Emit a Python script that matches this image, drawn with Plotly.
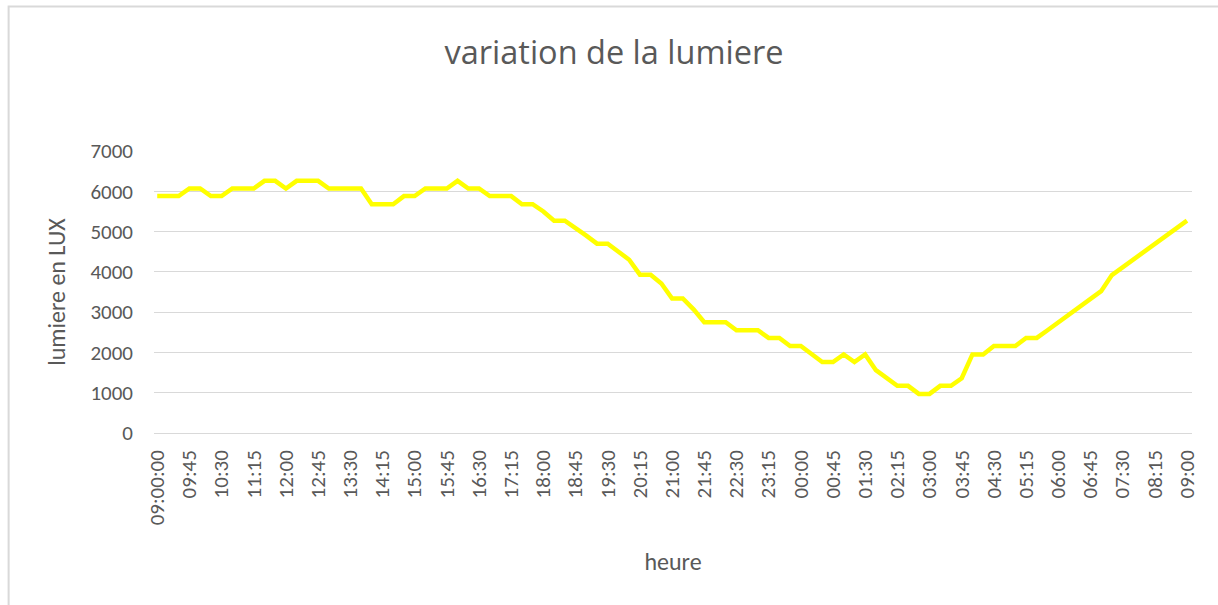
import plotly.graph_objects as go

heures = [
    "09:00:00", "09:15", "09:30", "09:45", "10:00", "10:15", "10:30", "10:45",
    "11:00", "11:15", "11:30", "11:45", "12:00", "12:15", "12:30", "12:45",
    "13:00", "13:15", "13:30", "13:45", "14:00", "14:15", "14:30", "14:45",
    "15:00", "15:15", "15:30", "15:45", "16:00", "16:15", "16:30", "16:45",
    "17:00", "17:15", "17:30", "17:45", "18:00", "18:15", "18:30", "18:45",
    "19:00", "19:15", "19:30", "19:45", "20:00", "20:15", "20:30", "20:45",
    "21:00", "21:15", "21:30", "21:45", "22:00", "22:15", "22:30", "22:45",
    "23:00", "23:15", "23:30", "23:45", "00:00", "00:15", "00:30", "00:45",
    "01:00", "01:15", "01:30", "01:45", "02:00", "02:15", "02:30", "02:45",
    "03:00", "03:15", "03:30", "03:45", "04:00", "04:15", "04:30", "04:45",
    "05:00", "05:15", "05:30", "05:45", "06:00", "06:15", "06:30", "06:45",
    "07:00", "07:15", "07:30", "07:45", "08:00", "08:15", "08:30", "08:45",
    "09:00",
]

lumiere_lux = [
    5880, 5880, 5880, 6070, 6070, 5880, 5880, 6070,
    6070, 6070, 6260, 6260, 6070, 6260, 6260, 6260,
    6070, 6070, 6070, 6070, 5680, 5680, 5680, 5880,
    5880, 6070, 6070, 6070, 6260, 6070, 6070, 5880,
    5880, 5880, 5680, 5680, 5500, 5270, 5270, 5100,
    4900, 4700, 4700, 4500, 4300, 3930, 3930, 3710,
    3340, 3340, 3070, 2750, 2750, 2750, 2550, 2550,
    2550, 2360, 2360, 2160, 2160, 1960, 1760, 1760,
    1950, 1760, 1950, 1560, 1360, 1170, 1170, 970,
    970, 1170, 1170, 1360, 1950, 1950, 2160, 2160,
    2160, 2360, 2360, 2550, 2740, 2930, 3110, 3330,
    3520, 3920, 4110, 4300, 4500, 4690, 4890, 5080,
    5270,
]

tick_labels = [
    "09:00:00", "09:45", "10:30", "11:15", "12:00", "12:45", "13:30", "14:15",
    "15:00", "15:45", "16:30", "17:15", "18:00", "18:45", "19:30", "20:15",
    "21:00", "21:45", "22:30", "23:15", "00:00", "00:45", "01:30", "02:15",
    "03:00", "03:45", "04:30", "05:15", "06:00", "06:45", "07:30", "08:15",
    "09:00",
]

y_ticks = [0, 1000, 2000, 3000, 4000, 5000, 6000, 7000]

FONT = "Carlito, Lato, sans-serif"
TITLE_FONT = "'Open Sans', Lato, sans-serif"
GREY = "#595959"

fig = go.Figure()
fig.add_trace(go.Scatter(
    x=heures, y=lumiere_lux, mode="lines",
    line=dict(color="#FFFF00", width=4.5),
    showlegend=False, hoverinfo="x+y",
))

W, H = 1218, 605
L, R, T, B = 154.3, 1191.7, 150.7, 433.0

fig.update_layout(
    width=W, height=H,
    margin=dict(l=L, r=W - R, t=T, b=H - B, pad=0),
    paper_bgcolor="white", plot_bgcolor="white",
    font=dict(family=FONT, color=GREY),
    title=dict(
        text="variation de la lumiere",
        font=dict(family=TITLE_FONT, size=32.5, color=GREY),
        x=614 / W, xref="container", xanchor="center",
        y=1 - 64 / H, yref="container", yanchor="bottom",
    ),
    xaxis=dict(
        type="category",
        categoryorder="array", categoryarray=heures,
        range=[-0.3, 96.47],
        tickmode="array", tickvals=tick_labels, ticktext=tick_labels,
        tickangle=-90,
        tickfont=dict(family=FONT, size=21, color=GREY),
        showgrid=False, showline=False, zeroline=False,
        ticks="", ticklabelstandoff=12,
        title=dict(text="heure", font=dict(family=FONT, size=24, color=GREY),
                   standoff=28),
    ),
    yaxis=dict(
        range=[0, 7000],
        tickmode="array", tickvals=y_ticks,
        tickfont=dict(family=FONT, size=21, color=GREY),
        showgrid=True, gridcolor="#d9d9d9", gridwidth=1.3,
        zeroline=True, zerolinecolor="#d9d9d9", zerolinewidth=1.3,
        showline=False, ticks="", ticklabelstandoff=20,
        title=dict(text="lumiere en LUX", font=dict(family=FONT, size=24, color=GREY),
                   standoff=18),
    ),
    shapes=[dict(
        type="rect", xref="paper", yref="paper",
        x0=(9 - L) / (R - L), x1=(1230 - L) / (R - L),
        y0=(B - 620) / (B - T), y1=(B - 6) / (B - T),
        line=dict(color="#d9d9d9", width=2), fillcolor="rgba(0,0,0,0)",
        layer="below",
    )],
)

fig.write_html(
    "out.html",
    config={"displayModeBar": False},
    post_script="document.body.style.margin='0';document.body.style.padding='0';",
)
